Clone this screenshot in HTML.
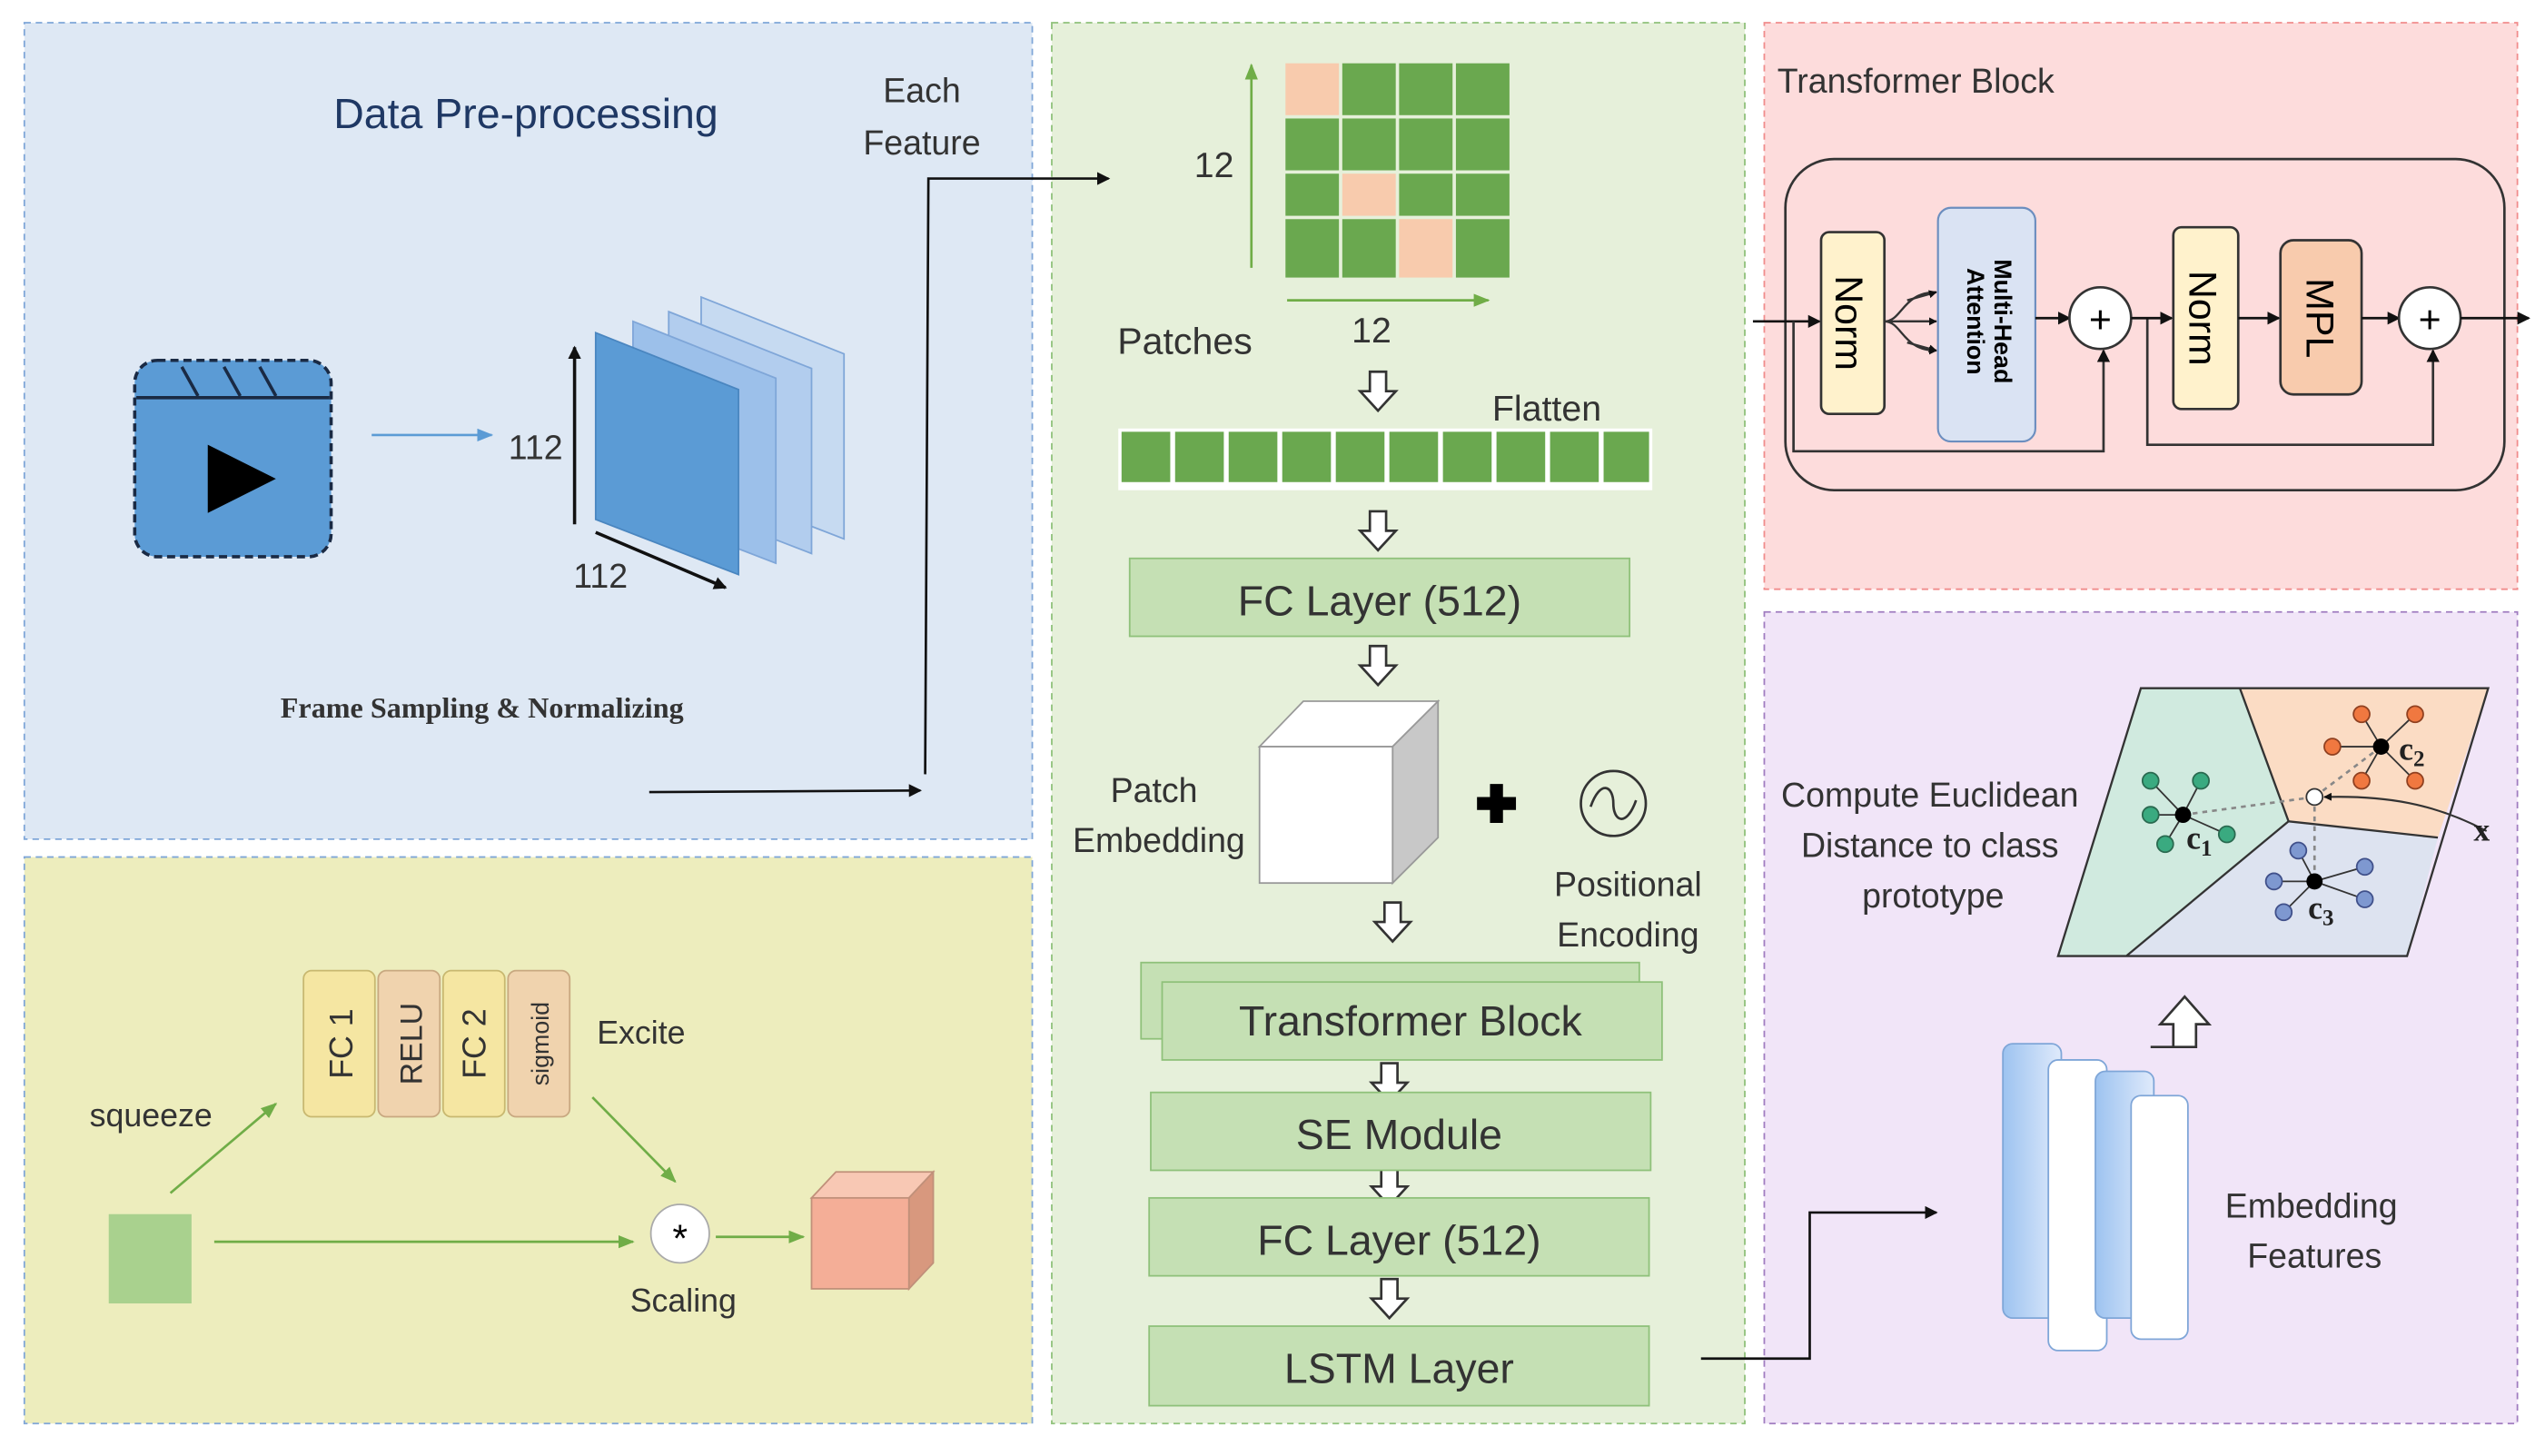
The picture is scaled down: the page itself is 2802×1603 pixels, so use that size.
<!DOCTYPE html>
<html><head><meta charset="utf-8"><style>
html,body{margin:0;padding:0;background:#fff;}
svg{display:block;}
text{font-family:"Liberation Sans",sans-serif;fill:#333;}
</style></head><body>
<svg width="2802" height="1603" viewBox="0 0 1568 897" preserveAspectRatio="none" xmlns="http://www.w3.org/2000/svg">
<defs>
<marker id="ab" markerWidth="8" markerHeight="8" refX="7" refY="4" orient="auto" markerUnits="userSpaceOnUse"><path d="M0,0 L8,4 L0,8 z" fill="#111"/></marker>
<marker id="abl" markerWidth="10" markerHeight="8" refX="9" refY="4" orient="auto" markerUnits="userSpaceOnUse"><path d="M0,0 L10,4 L0,8 z" fill="#5b9bd5"/></marker>
<marker id="ag" markerWidth="10" markerHeight="8" refX="9" refY="4" orient="auto" markerUnits="userSpaceOnUse"><path d="M0,0 L10,4 L0,8 z" fill="#70ad47"/></marker>
<marker id="as" markerWidth="5" markerHeight="5" refX="4.5" refY="2.5" orient="auto" markerUnits="userSpaceOnUse"><path d="M0,0 L5,2.5 L0,5 z" fill="#111"/></marker>
<linearGradient id="bg" x1="0" x2="1"><stop offset="0" stop-color="#9dc3f0"/><stop offset="1" stop-color="#dfeafb"/></linearGradient>
<g id="harrow"><path d="M-5,-12 L5,-12 L5,0 L11,0 L0,12 L-11,0 L-5,0 z" fill="#fff" stroke="#333" stroke-width="1.5"/></g>
</defs>

<!-- panels -->
<rect x="15" y="14" width="621" height="503" fill="#dee8f4" stroke="#7fa6d8" stroke-dasharray="4,3"/>
<rect x="15" y="528" width="621" height="349" fill="#ededbd" stroke="#7fa6d8" stroke-dasharray="4,3"/>
<rect x="648" y="14" width="427" height="863" fill="#e6f0da" stroke="#8fc17a" stroke-dasharray="4,3"/>
<rect x="1087" y="14" width="464" height="349" fill="#fddcdc" stroke="#f08c8c" stroke-dasharray="4,3"/>
<rect x="1087" y="377" width="464" height="500" fill="#f1e5f8" stroke="#a07cc0" stroke-dasharray="4,3"/>

<!-- Blue panel -->
<text x="324" y="79" font-size="26" text-anchor="middle" fill="#1f3864" style="fill:#1f3864">Data Pre-processing</text>
<text x="568" y="63" font-size="21" text-anchor="middle">Each</text>
<text x="568" y="95" font-size="21" text-anchor="middle">Feature</text>
<rect x="83" y="222" width="121" height="121" rx="14" fill="#5b9bd5" stroke="#1a2a44" stroke-width="2" stroke-dasharray="5,3"/>
<line x1="84" y1="245" x2="203" y2="245" stroke="#1a2a44" stroke-width="2"/>
<path d="M112,226 L122,244 M138,226 L148,244 M160,226 L170,244" stroke="#1a2a44" stroke-width="2"/>
<path d="M128,274 L170,295 L128,316 z" fill="#000"/>
<line x1="229" y1="268" x2="303" y2="268" stroke="#5b9bd5" stroke-width="1.5" marker-end="url(#abl)"/>
<text x="330" y="283" font-size="21" text-anchor="middle">112</text>
<line x1="354" y1="323" x2="354" y2="214" stroke="#111" stroke-width="2" marker-end="url(#ab)"/>
<path d="M432,183 L520,218 L520,332 L432,298 z" fill="#c6daf1" stroke="#7fa6d8"/>
<path d="M412,192 L500,227 L500,341 L412,307 z" fill="#b2cdee" stroke="#7fa6d8"/>
<path d="M390,198 L478,233 L478,347 L390,313 z" fill="#9cc0ea" stroke="#7fa6d8"/>
<path d="M367,205 L455,240 L455,354 L367,320 z" fill="#5b9bd5" stroke="#4a86c0"/>
<line x1="367" y1="328" x2="447" y2="362" stroke="#111" stroke-width="2" marker-end="url(#ab)"/>
<text x="370" y="362" font-size="21" text-anchor="middle">112</text>
<text x="297" y="442" font-size="18" font-weight="bold" text-anchor="middle" style="font-family:'Liberation Serif',serif;fill:#333">Frame Sampling &amp; Normalizing</text>
<line x1="400" y1="488" x2="567" y2="487" stroke="#111" stroke-width="1.5" marker-end="url(#ab)"/>
<polyline points="570,477 572,110 683,110" fill="none" stroke="#111" stroke-width="1.5" marker-end="url(#ab)"/>

<!-- Yellow panel -->
<rect x="67" y="748" width="51" height="55" fill="#a9d18e"/>
<line x1="105" y1="735" x2="170" y2="680" stroke="#70ad47" stroke-width="1.5" marker-end="url(#ag)"/>
<text x="93" y="694" font-size="20" text-anchor="middle">squeeze</text>
<rect x="187" y="598" width="44" height="90" rx="5" fill="#f5e6a2" stroke="#c8b870"/>
<rect x="233" y="598" width="38" height="90" rx="5" fill="#f0d3ae" stroke="#c8a880"/>
<rect x="273" y="598" width="38" height="90" rx="5" fill="#f5e6a2" stroke="#c8b870"/>
<rect x="313" y="598" width="38" height="90" rx="5" fill="#f0d3ae" stroke="#c8a880"/>
<text transform="translate(217,643) rotate(-90)" font-size="20" text-anchor="middle">FC 1</text>
<text transform="translate(260,643) rotate(-90)" font-size="19" text-anchor="middle">RELU</text>
<text transform="translate(299,643) rotate(-90)" font-size="20" text-anchor="middle">FC 2</text>
<text transform="translate(338,643) rotate(-90)" font-size="15" text-anchor="middle">sigmoid</text>
<text x="395" y="643" font-size="20" text-anchor="middle">Excite</text>
<line x1="365" y1="676" x2="416" y2="728" stroke="#70ad47" stroke-width="1.5" marker-end="url(#ag)"/>
<line x1="132" y1="765" x2="390" y2="765" stroke="#70ad47" stroke-width="1.5" marker-end="url(#ag)"/>
<circle cx="419" cy="760" r="18" fill="#fff" stroke="#aaa"/>
<text x="419" y="771" font-size="24" text-anchor="middle" style="fill:#000">*</text>
<line x1="441" y1="762" x2="495" y2="762" stroke="#70ad47" stroke-width="1.5" marker-end="url(#ag)"/>
<text x="421" y="808" font-size="20" text-anchor="middle">Scaling</text>
<path d="M500,738 L515,722 L575,722 L560,738 z" fill="#f8c8b4" stroke="#c0907a"/>
<path d="M560,738 L575,722 L575,778 L560,794 z" fill="#d8987e" stroke="#c0907a"/>
<rect x="500" y="738" width="60" height="56" fill="#f4ae97" stroke="#c0907a"/>

<!-- Green panel -->
<g stroke="#e6f0da" stroke-width="2">
<rect x="791" y="38" width="35" height="34" fill="#f8cbad"/><rect x="826" y="38" width="35" height="34" fill="#6aa84f"/><rect x="861" y="38" width="35" height="34" fill="#6aa84f"/><rect x="896" y="38" width="35" height="34" fill="#6aa84f"/>
<rect x="791" y="72" width="35" height="34" fill="#6aa84f"/><rect x="826" y="72" width="35" height="34" fill="#6aa84f"/><rect x="861" y="72" width="35" height="34" fill="#6aa84f"/><rect x="896" y="72" width="35" height="34" fill="#6aa84f"/>
<rect x="791" y="106" width="35" height="28" fill="#6aa84f"/><rect x="826" y="106" width="35" height="28" fill="#f8cbad"/><rect x="861" y="106" width="35" height="28" fill="#6aa84f"/><rect x="896" y="106" width="35" height="28" fill="#6aa84f"/>
<rect x="791" y="134" width="35" height="38" fill="#6aa84f"/><rect x="826" y="134" width="35" height="38" fill="#6aa84f"/><rect x="861" y="134" width="35" height="38" fill="#f8cbad"/><rect x="896" y="134" width="35" height="38" fill="#6aa84f"/>
</g>
<line x1="771" y1="165" x2="771" y2="40" stroke="#70ad47" stroke-width="1.5" marker-end="url(#ag)"/>
<line x1="793" y1="185" x2="917" y2="185" stroke="#70ad47" stroke-width="1.5" marker-end="url(#ag)"/>
<text x="748" y="109" font-size="22" text-anchor="middle">12</text>
<text x="845" y="211" font-size="22" text-anchor="middle">12</text>
<text x="730" y="218" font-size="23" text-anchor="middle">Patches</text>
<text x="953" y="259" font-size="22" text-anchor="middle">Flatten</text>
<rect x="689" y="264" width="329" height="38" fill="#fff"/>
<g fill="#6aa84f">
<rect x="691" y="266" width="30" height="31"/><rect x="724" y="266" width="30" height="31"/><rect x="757" y="266" width="30" height="31"/><rect x="790" y="266" width="30" height="31"/><rect x="823" y="266" width="30" height="31"/><rect x="856" y="266" width="30" height="31"/><rect x="889" y="266" width="30" height="31"/><rect x="922" y="266" width="30" height="31"/><rect x="955" y="266" width="30" height="31"/><rect x="988" y="266" width="28" height="31"/>
</g>
<use href="#harrow" x="849" y="241"/>
<use href="#harrow" x="849" y="327"/>
<use href="#harrow" x="849" y="410"/>
<use href="#harrow" x="858" y="568"/>
<use href="#harrow" x="856" y="667"/>
<use href="#harrow" x="856" y="731"/>
<use href="#harrow" x="856" y="800"/>
<g font-size="26">
<rect x="696" y="344" width="308" height="48" fill="#c5e0b4" stroke="#8fc17a"/>
<text x="850" y="379" text-anchor="middle" font-size="26">FC Layer (512)</text>
</g>
<path d="M776,460 L803,432 L886,432 L858,460 z" fill="#fff" stroke="#999"/>
<path d="M858,460 L886,432 L886,516 L858,544 z" fill="#c8c8c8" stroke="#999"/>
<rect x="776" y="460" width="82" height="84" fill="#fff" stroke="#999"/>
<text x="711" y="494" font-size="21" text-anchor="middle">Patch</text>
<text x="714" y="525" font-size="21" text-anchor="middle">Embedding</text>
<path d="M918,483 h8 v8 h8 v8 h-8 v8 h-8 v-8 h-8 v-8 h8 z" fill="#000"/>
<circle cx="994" cy="495" r="20" fill="none" stroke="#333" stroke-width="1.5"/>
<path d="M980,497 C986,480 994,484 994,495 C994,506 1002,510 1008,493" fill="none" stroke="#333" stroke-width="1.5"/>
<text x="1003" y="552" font-size="21" text-anchor="middle">Positional</text>
<text x="1003" y="583" font-size="21" text-anchor="middle">Encoding</text>
<rect x="703" y="593" width="307" height="47" fill="#c5e0b4" stroke="#8fc17a"/>
<rect x="716" y="605" width="308" height="48" fill="#c5e0b4" stroke="#8fc17a"/>
<text x="869" y="638" font-size="26" text-anchor="middle">Transformer Block</text>
<rect x="709" y="673" width="308" height="48" fill="#c5e0b4" stroke="#8fc17a"/>
<text x="862" y="708" font-size="26" text-anchor="middle">SE Module</text>
<rect x="708" y="738" width="308" height="48" fill="#c5e0b4" stroke="#8fc17a"/>
<text x="862" y="773" font-size="26" text-anchor="middle">FC Layer (512)</text>
<rect x="708" y="817" width="308" height="49" fill="#c5e0b4" stroke="#8fc17a"/>
<text x="862" y="852" font-size="26" text-anchor="middle">LSTM Layer</text>
<polyline points="1048,837 1115,837 1115,747 1193,747" fill="none" stroke="#111" stroke-width="1.5" marker-end="url(#ab)"/>

<!-- Pink panel -->
<text x="1095" y="57" font-size="21">Transformer Block</text>
<rect x="1100" y="98" width="443" height="204" rx="30" fill="none" stroke="#333" stroke-width="1.5"/>
<line x1="1080" y1="198" x2="1121" y2="198" stroke="#111" stroke-width="1.5" marker-end="url(#ab)"/>
<polyline points="1105,198 1105,278 1296,278 1296,216" fill="none" stroke="#333" stroke-width="1.5" marker-end="url(#ab)"/>
<polyline points="1323,196 1323,274 1499,274 1499,216" fill="none" stroke="#333" stroke-width="1.5" marker-end="url(#ab)"/>
<rect x="1122" y="143" width="39" height="112" rx="5" fill="#fff2cc" stroke="#333" stroke-width="1.5"/>
<text transform="translate(1131,199) rotate(90)" font-size="24" text-anchor="middle" style="fill:#000">Norm</text>
<path d="M1161,198 C1172,198 1172,180 1193,180 M1161,198 L1193,198 M1161,198 C1172,198 1172,216 1193,216" fill="none" stroke="#333" stroke-width="1.3" marker-end="url(#as)"/>
<line x1="1170" y1="198" x2="1193" y2="198" stroke="#333" stroke-width="1.3" marker-end="url(#as)"/>
<path d="M1175,185 L1193,180" stroke="#333" stroke-width="1.3" marker-end="url(#as)"/>
<path d="M1175,211 L1193,216" stroke="#333" stroke-width="1.3" marker-end="url(#as)"/>
<rect x="1194" y="128" width="60" height="144" rx="8" fill="#dae3f3" stroke="#6c8ebf" stroke-width="1.2"/>
<text transform="translate(1229,198) rotate(90)" font-size="15" font-weight="bold" text-anchor="middle" style="fill:#000">Multi-Head</text>
<text transform="translate(1212,198) rotate(90)" font-size="15" font-weight="bold" text-anchor="middle" style="fill:#000">Attention</text>
<line x1="1254" y1="196" x2="1275" y2="196" stroke="#111" stroke-width="1.5" marker-end="url(#ab)"/>
<circle cx="1294" cy="196" r="19" fill="#fff" stroke="#333" stroke-width="1.5"/>
<text x="1294" y="205" font-size="24" text-anchor="middle" style="fill:#000">+</text>
<line x1="1313" y1="196" x2="1338" y2="196" stroke="#111" stroke-width="1.5" marker-end="url(#ab)"/>
<rect x="1339" y="140" width="40" height="112" rx="5" fill="#fff2cc" stroke="#333" stroke-width="1.5"/>
<text transform="translate(1349,196) rotate(90)" font-size="24" text-anchor="middle" style="fill:#000">Norm</text>
<line x1="1379" y1="196" x2="1404" y2="196" stroke="#111" stroke-width="1.5" marker-end="url(#ab)"/>
<rect x="1405" y="148" width="50" height="95" rx="8" fill="#f8cbad" stroke="#333" stroke-width="1.5"/>
<text transform="translate(1421,196) rotate(90)" font-size="24" text-anchor="middle" style="fill:#000">MPL</text>
<line x1="1455" y1="196" x2="1478" y2="196" stroke="#111" stroke-width="1.5" marker-end="url(#ab)"/>
<circle cx="1497" cy="196" r="19" fill="#fff" stroke="#333" stroke-width="1.5"/>
<text x="1497" y="205" font-size="24" text-anchor="middle" style="fill:#000">+</text>
<line x1="1516" y1="196" x2="1558" y2="196" stroke="#111" stroke-width="1.5" marker-end="url(#ab)"/>

<!-- Purple panel -->
<text x="1189" y="497" font-size="21" text-anchor="middle">Compute Euclidean</text>
<text x="1189" y="528" font-size="21" text-anchor="middle">Distance to class</text>
<text x="1191" y="559" font-size="21" text-anchor="middle">prototype</text>
<path d="M1319,424 L1380,424 L1410,506 L1310,589 L1268,589 z" fill="#d0eadf"/>
<path d="M1380,424 L1533,424 L1502,516 L1410,506 z" fill="#fbdcc4"/>
<path d="M1410,506 L1502,516 L1483,589 L1310,589 z" fill="#dde3f0"/>
<path d="M1319,424 L1533,424 L1483,589 L1268,589 z M1380,424 L1410,506 L1502,516 M1410,506 L1310,589" fill="none" stroke="#333" stroke-width="1.3"/>
<path d="M1345,502 L1426,491 M1467,460 L1426,491 M1426,491 L1426,543" stroke="#888" stroke-width="1.5" stroke-dasharray="3,3"/>
<path d="M1532,512 C1500,495 1470,490 1432,491" fill="none" stroke="#333" stroke-width="1.2" marker-end="url(#as)"/>
<g stroke="#333" stroke-width="1">
<line x1="1345" y1="502" x2="1325" y2="481"/><line x1="1345" y1="502" x2="1356" y2="481"/><line x1="1345" y1="502" x2="1325" y2="502"/><line x1="1345" y1="502" x2="1334" y2="520"/><line x1="1345" y1="502" x2="1372" y2="514"/>
<line x1="1467" y1="460" x2="1455" y2="440"/><line x1="1467" y1="460" x2="1488" y2="440"/><line x1="1467" y1="460" x2="1437" y2="460"/><line x1="1467" y1="460" x2="1455" y2="481"/><line x1="1467" y1="460" x2="1488" y2="481"/>
<line x1="1426" y1="543" x2="1416" y2="524"/><line x1="1426" y1="543" x2="1457" y2="534"/><line x1="1426" y1="543" x2="1401" y2="543"/><line x1="1426" y1="543" x2="1407" y2="562"/><line x1="1426" y1="543" x2="1457" y2="554"/>
</g>
<g fill="#3aaa80" stroke="#2a6a50"><circle cx="1325" cy="481" r="5"/><circle cx="1356" cy="481" r="5"/><circle cx="1325" cy="502" r="5"/><circle cx="1334" cy="520" r="5"/><circle cx="1372" cy="514" r="5"/></g>
<g fill="#f07840" stroke="#904020"><circle cx="1455" cy="440" r="5"/><circle cx="1488" cy="440" r="5"/><circle cx="1437" cy="460" r="5"/><circle cx="1455" cy="481" r="5"/><circle cx="1488" cy="481" r="5"/></g>
<g fill="#7e98d0" stroke="#40508a"><circle cx="1416" cy="524" r="5"/><circle cx="1457" cy="534" r="5"/><circle cx="1401" cy="543" r="5"/><circle cx="1407" cy="562" r="5"/><circle cx="1457" cy="554" r="5"/></g>
<circle cx="1345" cy="502" r="5" fill="#000"/><circle cx="1467" cy="460" r="5" fill="#000"/><circle cx="1426" cy="543" r="5" fill="#000"/>
<circle cx="1426" cy="491" r="5" fill="#fff" stroke="#333"/>
<g style="font-family:'Liberation Serif',serif" font-weight="bold">
<text x="1347" y="523" font-size="20" style="fill:#222;font-family:'Liberation Serif',serif">c<tspan font-size="14" dy="4">1</tspan></text>
<text x="1478" y="468" font-size="20" style="fill:#222;font-family:'Liberation Serif',serif">c<tspan font-size="14" dy="4">2</tspan></text>
<text x="1422" y="566" font-size="20" style="fill:#222;font-family:'Liberation Serif',serif">c<tspan font-size="14" dy="4">3</tspan></text>
<text x="1524" y="518" font-size="20" style="fill:#222;font-family:'Liberation Serif',serif">x</text>
</g>
<path d="M1333,645 h14 v-14 h-8 l15,-17 l15,17 h-8 v14 z" transform="translate(-8,0)" fill="#fff" stroke="#333" stroke-width="1.5"/>
<rect x="1234" y="643" width="36" height="169" rx="6" fill="url(#bg)" stroke="#7fa6d8"/>
<rect x="1262" y="653" width="36" height="179" rx="6" fill="#fff" stroke="#7fa6d8"/>
<rect x="1291" y="660" width="36" height="152" rx="6" fill="url(#bg)" stroke="#7fa6d8"/>
<rect x="1313" y="675" width="35" height="150" rx="6" fill="#fff" stroke="#7fa6d8"/>
<text x="1424" y="750" font-size="21" text-anchor="middle">Embedding</text>
<text x="1426" y="781" font-size="21" text-anchor="middle">Features</text>
</svg>
</body></html>
